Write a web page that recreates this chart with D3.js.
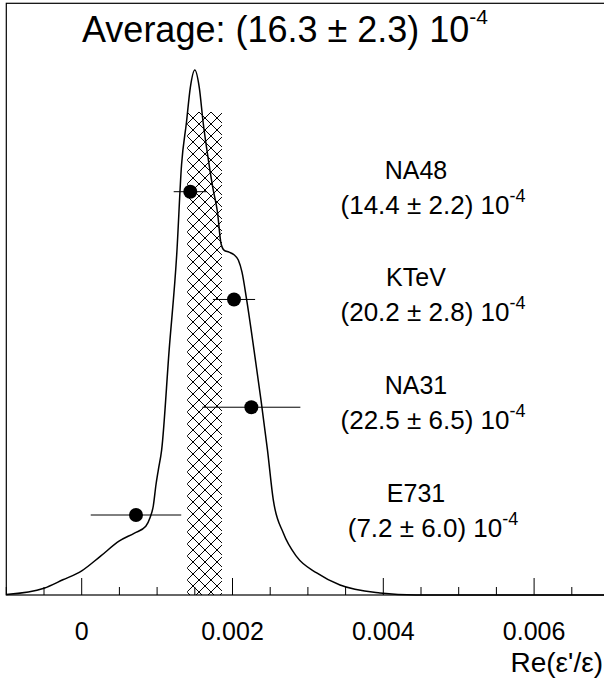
<!DOCTYPE html>
<html>
<head>
<meta charset="utf-8" />
<title>Ideogram</title>
<style>
  body { margin: 0; background: #fff; }
  svg text { font-family: "Liberation Sans", Arial, sans-serif; fill: #000; }
</style>
</head>
<body>
<svg id="chart" width="604" height="679"></svg>
<script src="https://cdn.jsdelivr.net/npm/d3@7"></script>
<script>
// measurements, in units of 10^-4
var expNames = ["NA48", "KTeV", "NA31", "E731"];
var expValues = [14.4, 20.2, 22.5, 7.2];
var expErrors = [2.2, 2.8, 6.5, 6.0];
var average = 16.3;
var averageError = 2.3;
var bandHeight = 0.92;   // height of the hatched band, curve units

// ideogram curve (x in Re(eps'/eps), height relative to peak)
var curveX = [-0.001, -0.0005, -0.00025, 0, 0.00025, 0.0005, 0.0007, 0.00085, 0.000906, 0.00095,
  0.000985, 0.001016, 0.00106, 0.00116, 0.00126, 0.001324, 0.00139, 0.00144, 0.0015, 0.00156,
  0.00161, 0.00168, 0.00174, 0.0018, 0.001847, 0.001887, 0.001954, 0.00202, 0.002077, 0.002126,
  0.002188, 0.002285, 0.002378, 0.002464, 0.002541, 0.002674, 0.002851, 0.003117, 0.003426,
  0.003956, 0.004434, 0.007];
var curveY = [0.001, 0.013, 0.029, 0.046, 0.074, 0.103, 0.118, 0.131, 0.147, 0.170,
  0.210, 0.238, 0.276, 0.467, 0.648, 0.819, 0.901, 0.966, 1.0, 0.966,
  0.901, 0.829, 0.775, 0.730, 0.670, 0.657, 0.653, 0.648, 0.638, 0.615,
  0.562, 0.467, 0.371, 0.276, 0.181, 0.118, 0.073, 0.042, 0.019,
  0.004, 0.0, 0.0];

var majorTicks = [0, 0.002, 0.004, 0.006];
var tickLabels = ["0", "0.002", "0.004", "0.006"];

var svg = d3.select("#chart");
var pl = 6.3, pr = 609.5, pt = 3.3, pb = 595;

var x = d3.scaleLinear().domain([-0.001, 0.007]).range([pl, pr]);
var y = d3.scaleLinear().domain([0, 1]).range([pb, 70]);
var row = d3.scaleLinear().domain([0, 3]).range([191.7, 515]);

// hatch pattern
var defs = svg.append("defs");
var pat = defs.append("pattern")
  .attr("id", "hatch")
  .attr("patternUnits", "userSpaceOnUse")
  .attr("x", 187).attr("y", 112)
  .attr("width", 12).attr("height", 12);
pat.append("path")
  .attr("d", "M0,0L12,12M12,0L0,12M-1,11L1,13M11,-1L13,1")
  .attr("stroke", "#000").attr("stroke-width", 1).attr("fill", "none")
  .attr("shape-rendering", "crispEdges");

var e = 1e-4;
svg.append("rect")
  .attr("x", x((average - averageError) * e))
  .attr("y", y(bandHeight))
  .attr("width", x((average + averageError) * e) - x((average - averageError) * e))
  .attr("height", pb - y(bandHeight))
  .attr("fill", "url(#hatch)");

// curve
var pts = curveX.map(function(v, i) { return [v, curveY[i]]; });
var line = d3.line()
  .x(function(d) { return x(d[0]); })
  .y(function(d) { return y(d[1]); })
  .curve(d3.curveMonotoneX);
svg.append("path")
  .attr("d", line(pts))
  .attr("fill", "none")
  .attr("stroke", "#000")
  .attr("stroke-width", 1.5);

// measurements
var g = svg.selectAll(".meas")
  .data(expNames)
  .enter().append("g")
  .attr("class", "meas");

g.append("line")
  .attr("x1", function(d, i) { return x((expValues[i] - expErrors[i]) * e); })
  .attr("x2", function(d, i) { return x((expValues[i] + expErrors[i]) * e); })
  .attr("y1", function(d, i) { return row(i); })
  .attr("y2", function(d, i) { return row(i); })
  .attr("stroke", "#000").attr("stroke-width", 1);

g.append("circle")
  .attr("cx", function(d, i) { return x(expValues[i] * e); })
  .attr("cy", function(d, i) { return row(i); })
  .attr("r", 7)
  .attr("fill", "#000");

g.append("text")
  .attr("x", 416)
  .attr("y", function(d, i) { return row(i) - 13; })
  .attr("text-anchor", "middle")
  .attr("font-size", 25)
  .text(function(d) { return d; });

var vt = g.append("text")
  .attr("x", 433)
  .attr("y", function(d, i) { return row(i) + 22; })
  .attr("text-anchor", "middle")
  .attr("font-size", 26);
vt.append("tspan")
  .text(function(d, i) { return "(" + expValues[i].toFixed(1) + " \u00b1 " + expErrors[i].toFixed(1) + ") 10"; });
vt.append("tspan")
  .attr("font-size", 18)
  .attr("dy", -12)
  .text("-4");

// frame
svg.append("rect")
  .attr("x", pl).attr("y", pt)
  .attr("width", pr - pl).attr("height", pb - pt)
  .attr("fill", "none").attr("stroke", "#000").attr("stroke-width", 1.2);

// x axis ticks pointing inward
var minorTicks = d3.range(-0.001, 0.00701, 0.0005).filter(function(v) {
  return Math.abs(Math.round(v / 0.002) * 0.002 - v) > 1e-9;
});
svg.selectAll(".minor").data(minorTicks).enter().append("line")
  .attr("x1", function(d) { return x(d); }).attr("x2", function(d) { return x(d); })
  .attr("y1", pb).attr("y2", pb - 8)
  .attr("stroke", "#000").attr("stroke-width", 1);
svg.selectAll(".major").data(majorTicks).enter().append("line")
  .attr("x1", function(d) { return x(d); }).attr("x2", function(d) { return x(d); })
  .attr("y1", pb).attr("y2", pb - 17)
  .attr("stroke", "#000").attr("stroke-width", 1);
svg.selectAll(".tl").data(majorTicks).enter().append("text")
  .attr("x", function(d) { return x(d); })
  .attr("y", 640)
  .attr("text-anchor", "middle")
  .attr("font-size", 25)
  .text(function(d, i) { return tickLabels[i]; });

svg.append("text")
  .attr("x", 603)
  .attr("y", 672)
  .attr("text-anchor", "end")
  .attr("font-size", 28)
  .text("Re(\u03b5'/\u03b5)");

// title
var t = svg.append("text")
  .attr("x", 82)
  .attr("y", 42)
  .attr("font-size", 36);
t.append("tspan").text("Average: (" + average.toFixed(1) + " \u00b1 " + averageError.toFixed(1) + ") 10");
t.append("tspan").attr("font-size", 21).attr("dy", -18).text("-4");
</script>
</body>
</html>
